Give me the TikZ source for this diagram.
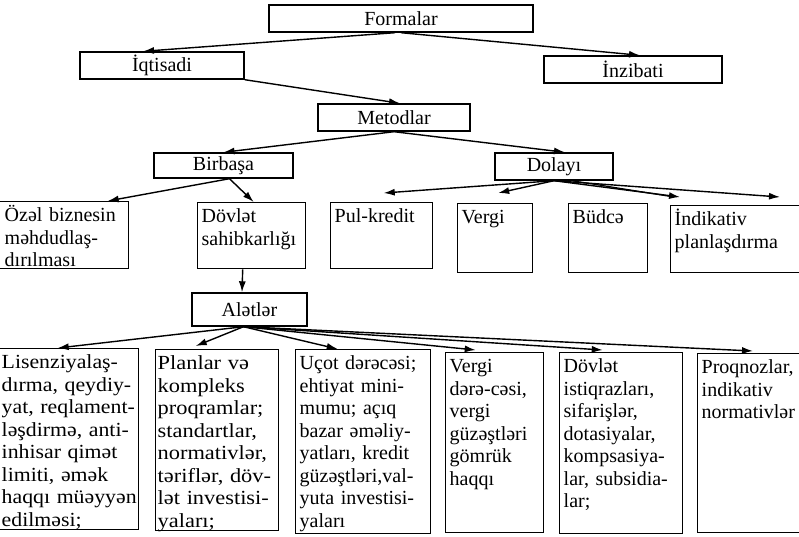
\documentclass[tikz,border=0pt]{standalone}
\usepackage{fontspec}
\setmainfont{Liberation Serif}
\newfontfamily\widefont[FakeStretch=1.12]{Liberation Serif}
\newfontfamily\midfont[FakeStretch=1.09]{Liberation Serif}
\usetikzlibrary{arrows.meta}
\tikzset{
head/.style={
draw,
line width=1.4pt,
inner sep=0pt,
minimum height=27pt,
font=\fontsize{20}{22.5}\selectfont
},
item/.style={
draw,
line width=1.4pt,
anchor=north west,
align=left,
inner xsep=4pt,
inner ysep=3pt,
text height=17pt,
font=\fontsize{20}{22.5}\selectfont
},
wideitem/.style={
item,
font=\widefont\fontsize{20}{22.5}\selectfont
},
arrow/.style={
-{Latex[length=11pt,width=7pt]},
line width=1.4pt
}
}

\begin{document}
\begin{tikzpicture}[x=1pt,y=-1pt]
\useasboundingbox (0,0) rectangle (799,536);

\node[head,minimum width=264pt](formalar) at (401,18.5){Formalar};
\node[head,minimum width=164pt](iqtisadi) at (162,65.5){İqtisadi};
\node[head,minimum width=178pt](inzibati) at (633,69.5){İnzibati};
\node[head,minimum width=152pt](metodlar) at (394,117.5){Metodlar};
\node[head,minimum width=139pt,minimum height=25pt](birbasa) at (223.5,165.5){Birbaşa};
\node[head,minimum width=118pt](dolayi) at (554,166.5){Dolayı};

\node[item,inner xsep=6pt,text width=118pt,text depth=44pt](ozel) at (-2,201){Özəl biznesin\\məhdudlaş-\\dırılması};
\node[item,text width=100pt,text depth=43pt](dovlet) at (197,202){Dövlət\\sahibkarlığı};
\node[item,text width=94pt,text depth=43pt](pul) at (330,202){Pul-kredit};
\node[item,text width=67pt,text depth=46pt](vergi) at (457,203){Vergi};
\node[item,text width=71pt,text depth=46pt](budce) at (568,203){Büdcə};
\node[item,text width=128pt,text depth=44pt](indik) at (670,205){İndikativ\\planlaşdırma};

\node[head,minimum width=115pt,minimum height=33pt](aletler) at (249.5,309.5){Alətlər};

\node[item,font=\midfont\fontsize{20}{22.5}\selectfont,inner xsep=3pt,text width=134pt,text depth=158pt](lisenz) at (-2,348){Lisenziyalaş-\\dırma,~qeydiy-\\yat,~reqlament-\\ləşdirmə,~anti-\\inhisar~qimət\\limiti,~əmək\\haqqı~müəyyən\\edilməsi;};
\node[wideitem,inner xsep=2pt,text width=119pt,text depth=158pt](planlar) at (155,349){Planlar~və\\kompleks\\proqramlar;\\standartlar,\\normativlər,\\təriflər,~döv-\\lət~investisi-\\yaları;};
\node[item,text width=127pt,text depth=161pt](ucot) at (295,349){Uçot dərəcəsi;\\ehtiyat mini-\\mumu; açıq\\bazar əməliy-\\yatları, kredit\\güzəştləri,val-\\yuta investisi-\\yaları};
\node[item,text width=90pt,text depth=157pt](vergidar) at (445,352){Vergi\\dərə-cəsi,\\vergi\\güzəştləri\\gömrük\\haqqı};
\node[item,text width=115pt,text depth=158pt](istiqraz) at (559,352){Dövlət\\istiqrazları,\\sifarişlər,\\dotasiyalar,\\kompsasiya-\\lar, subsidia-\\lar;};
\node[item,text width=101pt,text depth=156pt](proqnoz) at (697,353){Proqnozlar,\\indikativ\\normativlər};

\draw[arrow]([xshift=-6pt]formalar.south)--([xshift=-19pt]iqtisadi.north);
\draw[arrow](formalar.south)--([xshift=7pt]inzibati.north);
\draw[arrow](iqtisadi.south east)--([xshift=6pt]metodlar.north);
\draw[arrow](metodlar.south)--(birbasa.north);
\draw[arrow](metodlar.south)--([xshift=11pt]dolayi.north);

\draw[arrow]([xshift=6pt]birbasa.south)--([xshift=44pt]ozel.north);
\draw[arrow]([xshift=6pt]birbasa.south)--([xshift=2pt]dovlet.north);

\draw[arrow](dolayi.south)--([xshift=2pt,yshift=9pt]pul.north);
\draw[arrow](dolayi.south)--([xshift=3pt,yshift=10pt]vergi.north);
\draw[arrow](dolayi.south)--([xshift=10pt,yshift=8pt]indik.north west);
\draw[line width=1.2pt]([xshift=18pt]dolayi.south)--([xshift=4pt,yshift=8pt]indik.north west);
\draw[arrow](dolayi.south)--([xshift=110pt,yshift=8pt]indik.north west);

\draw[arrow]([xshift=-9pt]dovlet.south)--([xshift=-7.5pt]aletler.north);

\draw[arrow]([xshift=-6pt]aletler.south)--([xshift=-11pt]lisenz.north);
\draw[arrow]([xshift=-6pt]aletler.south)--([xshift=-21.5pt,yshift=3pt]planlar.north);
\draw[arrow]([xshift=-6pt]aletler.south)--([xshift=-25.5pt]ucot.north);
\draw[arrow]([xshift=-6pt]aletler.south)--([xshift=-19pt,yshift=2pt]vergidar.north);
\draw[arrow]([xshift=-6pt]aletler.south)--([xshift=-18.5pt,yshift=2pt]istiqraz.north);
\draw[arrow]([xshift=-6pt]aletler.south)--([xshift=56pt,yshift=2pt]proqnoz.north west);
\end{tikzpicture}
\end{document}
